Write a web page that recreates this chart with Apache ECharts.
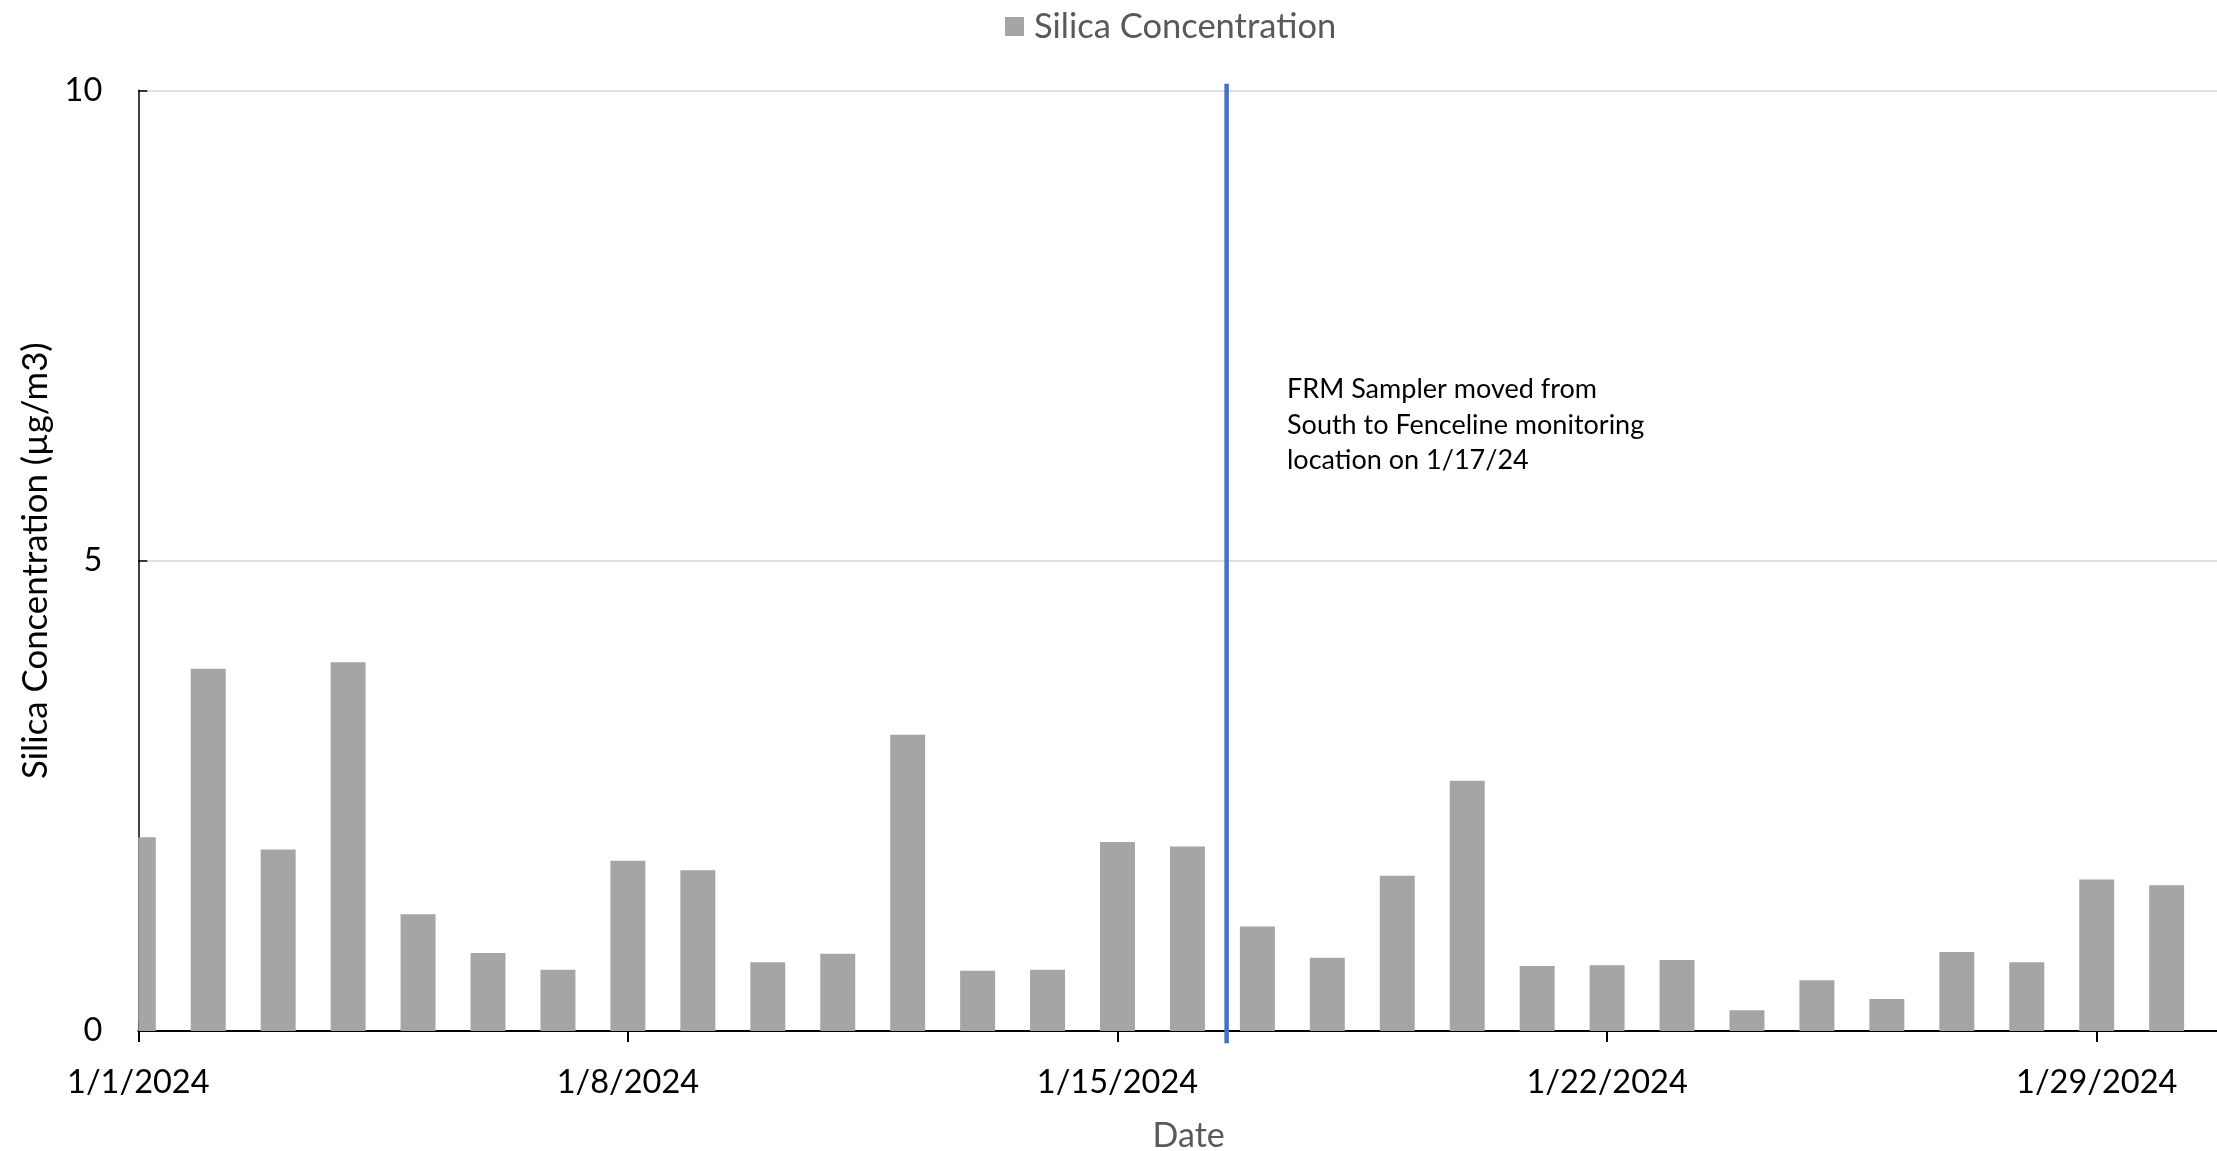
<!DOCTYPE html>
<html>
<head>
<meta charset="utf-8">
<script src="https://cdn.jsdelivr.net/npm/echarts@6/dist/echarts.min.js"></script>
<style>
  html, body { margin: 0; padding: 0; background: #ffffff; }
  #chart { width: 2217px; height: 1151px; }
</style>
</head>
<body>
<div id="chart"></div>
<script>
// ---- data ----
const days = [1,2,3,4,5,6,7,8,9,10,11,12,13,14,15,16,17,18,19,20,21,22,23,24,25,26,27,28,29,30]; // January 2024
const silica = [2.06, 3.85, 1.93, 3.92, 1.24, 0.83, 0.65, 1.81, 1.71, 0.73,
                0.82, 3.15, 0.64, 0.65, 2.01, 1.96, 1.11, 0.78, 1.65, 2.66,
                0.69, 0.70, 0.755, 0.22, 0.54, 0.34, 0.84, 0.73, 1.61, 1.55];
const tickDays = [1, 8, 15, 22, 29];
const moveLineX = 16.56;
const moveLineY = [-0.13, 10.07];
const seriesName = 'Silica Concentration';
const annotation = 'FRM Sampler moved from\nSouth to Fenceline monitoring\nlocation on 1/17/24';

const FONT = 'Lato';
const xMin = 1, xMax = 30.72;
const BAR_FRACTION = 0.5; // bar width as a fraction of one day

const chart = echarts.init(document.getElementById('chart'), null, { renderer: 'canvas' });

const baseX = {
  type: 'value', min: xMin, max: xMax, position: 'bottom', offset: 0,
  splitLine: { show: false }
};

function renderBar(params, api) {
  const x = api.value(0), y = api.value(1);
  const top = api.coord([x, y]);
  const base = api.coord([x, 0]);
  const w = api.size([1, 0])[0] * BAR_FRACTION;
  const cs = params.coordSys;
  const rect = echarts.graphic.clipRectByRect(
    { x: top[0] - w / 2, y: top[1], width: w, height: base[1] - top[1] },
    { x: cs.x, y: cs.y, width: cs.width, height: cs.height }
  );
  return rect && { type: 'rect', shape: rect, style: api.style() };
}

const option = {
  backgroundColor: '#ffffff',
  animation: false,
  textStyle: { fontFamily: FONT },
  legend: {
    data: [seriesName],
    left: 1005, top: 9, padding: 0,
    icon: 'rect', itemWidth: 19, itemHeight: 19,
    textStyle: { fontFamily: FONT, fontSize: 34.5, color: '#595959', padding: [0, 0, 0, 5] }
  },
  grid: { left: 138.3, right: 0, top: 90.3, bottom: 120, containLabel: false, outerBoundsMode: 'none' },
  xAxis: [
    Object.assign({}, baseX, {
      name: 'Date', nameLocation: 'middle', nameGap: 88,
      nameTextStyle: { fontFamily: FONT, fontSize: 34, color: '#595959', padding: [0, 0, 0, 22] },
      axisLine: { show: true, lineStyle: { color: '#000000', width: 2 } },
      axisTick: { show: true, inside: false, length: 11, customValues: tickDays, lineStyle: { color: '#000000', width: 2 } },
      axisLabel: { show: true, customValues: tickDays, margin: 35, fontFamily: FONT, fontSize: 32.5, color: '#000000',
                   formatter: v => '1/' + v + '/2024' }
    }),
    Object.assign({}, baseX, {
      axisLine: { show: false },
      axisTick: { show: true, inside: true, length: 11, customValues: tickDays, lineStyle: { color: '#000000', width: 2 } },
      axisLabel: { show: false }
    }),
    Object.assign({}, baseX, {
      axisLine: { show: false },
      axisTick: { show: true, inside: true, length: 8, customValues: days, lineStyle: { color: '#000000', width: 2 } },
      axisLabel: { show: false }
    })
  ],
  yAxis: {
    type: 'value', min: 0, max: 10, interval: 5,
    name: 'Silica Concentration (µg/m3)', nameLocation: 'middle', nameGap: 77, nameRotate: 90,
    nameTextStyle: { fontFamily: FONT, fontSize: 34.8, color: '#000000' },
    axisLine: { show: true, lineStyle: { color: '#000000', width: 1.5 } },
    axisTick: { show: true, inside: true, length: 9, lineStyle: { color: '#000000', width: 1.5 } },
    axisLabel: { margin: 36, fontFamily: FONT, fontSize: 32.5, color: '#000000' },
    splitLine: { show: true, lineStyle: { color: '#D9D9D9', width: 1.5 } }
  },
  series: [
    {
      name: seriesName, type: 'custom', xAxisIndex: 0,
      data: days.map((d, i) => [d, silica[i]]),
      encode: { x: 0, y: 1 },
      renderItem: renderBar,
      itemStyle: { color: '#A5A5A5' }
    },
    {
      name: 'move', type: 'line', xAxisIndex: 0,
      data: moveLineY.map(y => [moveLineX, y]),
      symbol: 'none', clip: false, silent: true,
      lineStyle: { color: '#4472C4', width: 4.5 },
      z: 5
    }
  ],
  graphic: [
    {
      type: 'text', left: 1287, top: 372,
      style: { text: annotation, font: '27px ' + FONT, fill: '#000000', lineHeight: 35.5 }
    }
  ]
};
chart.setOption(option);
</script>
</body>
</html>
